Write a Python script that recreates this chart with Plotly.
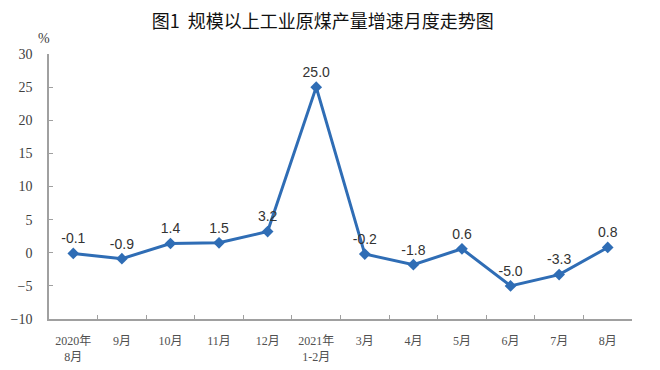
import plotly.graph_objects as go

categories = ["2020年<br>8月", "9月", "10月", "11月", "12月", "2021年<br>1-2月",
              "3月", "4月", "5月", "6月", "7月", "8月"]
values = [-0.1, -0.9, 1.4, 1.5, 3.2, 25.0, -0.2, -1.8, 0.6, -5.0, -3.3, 0.8]
y_ticks = [-10, -5, 0, 5, 10, 15, 20, 25, 30]
labels = [f"{v:.1f}" for v in values]

fig = go.Figure()
fig.add_trace(go.Scatter(
    x=categories, y=values, mode="lines+markers+text",
    line=dict(color="#2F6DB5", width=3),
    marker=dict(symbol="diamond", size=9, color="#2F6DB5"),
    text=labels, textposition="top center",
    textfont=dict(family="Liberation Sans, Arial", size=14, color="#333333"),
    cliponaxis=False, showlegend=False,
))

fig.update_layout(
    width=660, height=370,
    margin=dict(l=41, r=36, t=46, b=59),
    paper_bgcolor="white", plot_bgcolor="white",
    title=dict(text="图1  规模以上工业原煤产量增速月度走势图", x=0.477, xanchor="center",
               xref="container", y=0.962, yanchor="middle",
               font=dict(family="Noto Sans CJK SC", size=18, color="#111111")),
    xaxis=dict(type="category", tickson="boundaries", ticks="inside", ticklen=4,
               tickcolor="#A0A0A0", showline=True, linecolor="#A0A0A0", linewidth=1.5,
               showgrid=False, range=[-0.5, 11.5], automargin=False, ticklabelstandoff=10,
               tickfont=dict(family="Liberation Serif, Noto Sans CJK SC", size=12, color="#505050")),
    yaxis=dict(range=[-10, 30], tickvals=y_ticks, ticks="inside", ticklen=4,
               tickcolor="#A0A0A0", showline=True, linecolor="#A0A0A0", linewidth=1.5,
               showgrid=False, zeroline=False, ticklabelstandoff=12, automargin=False,
               tickfont=dict(family="Liberation Serif", size=14, color="#404040")),
    annotations=[dict(text="%", x=0, xref="paper", xanchor="right", xshift=3,
                      y=1, yref="paper", yanchor="bottom", yshift=6, showarrow=False,
                      font=dict(family="Liberation Serif", size=14, color="#404040"))],
)

fig.write_html("out.html")
